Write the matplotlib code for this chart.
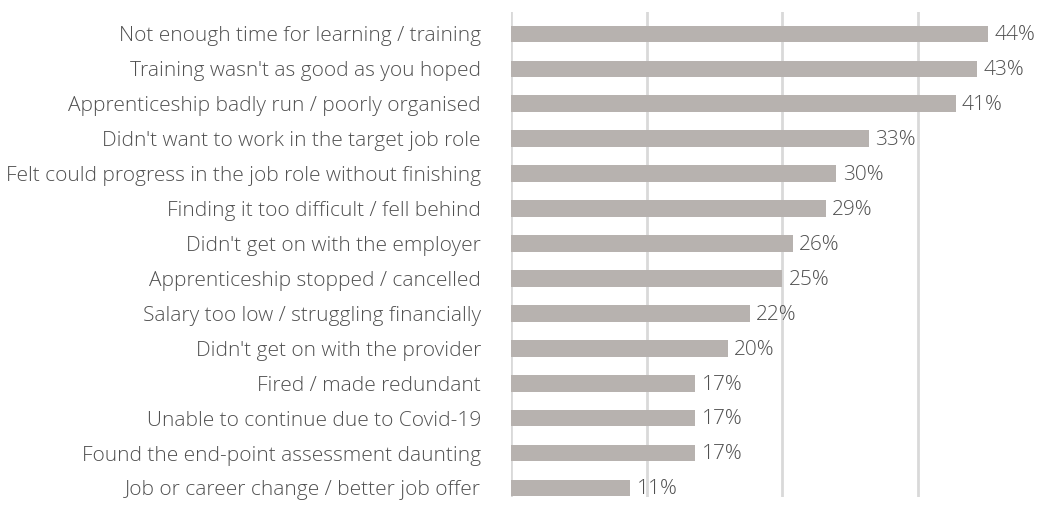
import matplotlib
matplotlib.use("Agg")
import matplotlib.pyplot as plt

categories = [
    "Not enough time for learning / training",
    "Training wasn't as good as you hoped",
    "Apprenticeship badly run / poorly organised",
    "Didn't want to work in the target job role",
    "Felt could progress in the job role without finishing",
    "Finding it too difficult / fell behind",
    "Didn't get on with the employer",
    "Apprenticeship stopped / cancelled",
    "Salary too low / struggling financially",
    "Didn't get on with the provider",
    "Fired / made redundant",
    "Unable to continue due to Covid-19",
    "Found the end-point assessment daunting",
    "Job or career change / better job offer",
]
values = [44, 43, 41, 33, 30, 29, 26, 25, 22, 20, 17, 17, 17, 11]
value_labels = ["44%", "43%", "41%", "33%", "30%", "29%", "26%", "25%", "22%", "20%", "17%", "17%", "17%", "11%"]
grid_ticks = [0, 12.5, 25, 37.5]

FONT = ["Open Sans", "DejaVu Sans"]
plt.rcParams['font.family'] = FONT
TXT = "#505050"
FS = 15

fig = plt.figure(figsize=(10.48, 5.05), dpi=100)
ax = fig.add_axes([511/1048, 8/505, 1 - 511/1048, 485/505])

y = list(range(len(categories)))
ax.barh(y, values, height=0.48, color="#b7b2af", zorder=3)

ax.set_xlim(0, 49.5)
ax.set_ylim(13.26, -0.63)
ax.set_xticks(grid_ticks)
ax.set_xticklabels([])
ax.tick_params(axis='x', length=0)
ax.grid(axis='x', color="#d9d9d9", linewidth=2, zorder=0)
ax.set_yticks(y)
ax.set_yticklabels(categories, fontsize=FS, color=TXT, fontweight='light')
ax.tick_params(axis='y', length=0, pad=21.6)
for s in ax.spines.values():
    s.set_visible(False)

for yi, v, lab in zip(y, values, value_labels):
    ax.annotate(lab, xy=(v, yi), xytext=(4.5, -1), textcoords='offset points',
                va='center', ha='left', fontsize=FS, color=TXT, fontweight='light')

fig.savefig("out.png", dpi=100)
